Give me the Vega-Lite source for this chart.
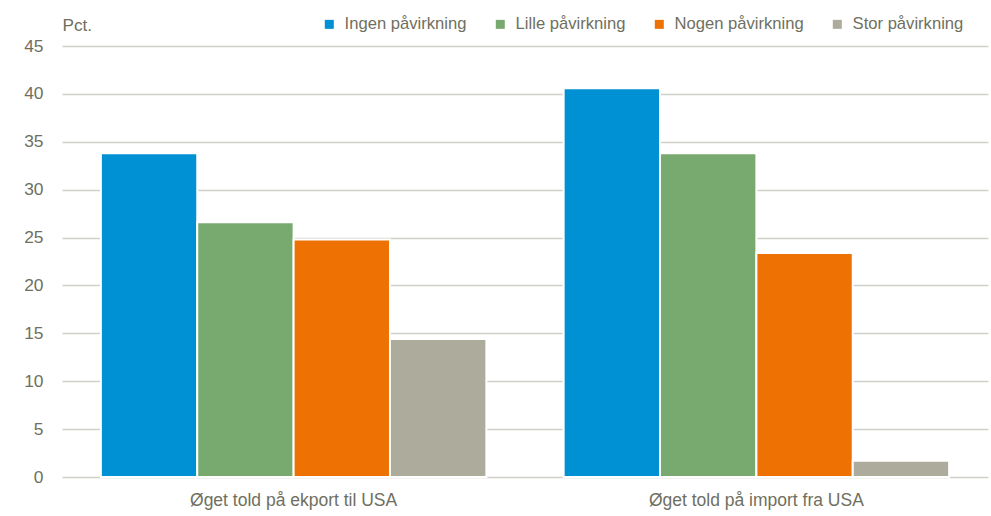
{
  "$schema": "https://vega.github.io/schema/vega-lite/v6.json",
  "width": 926,
  "height": 431,
  "autosize": {"type": "none"},
  "padding": {"left": 62, "top": 46, "right": 3, "bottom": 39},
  "background": "white",
  "data": {
    "values": [
      {"gruppe": "Øget told på ekport til USA", "kategori": "Ingen påvirkning", "pct": 33.8},
      {"gruppe": "Øget told på ekport til USA", "kategori": "Lille påvirkning", "pct": 26.6},
      {"gruppe": "Øget told på ekport til USA", "kategori": "Nogen påvirkning", "pct": 24.8},
      {"gruppe": "Øget told på ekport til USA", "kategori": "Stor påvirkning", "pct": 14.4},
      {"gruppe": "Øget told på import fra USA", "kategori": "Ingen påvirkning", "pct": 40.6},
      {"gruppe": "Øget told på import fra USA", "kategori": "Lille påvirkning", "pct": 33.8},
      {"gruppe": "Øget told på import fra USA", "kategori": "Nogen påvirkning", "pct": 23.4},
      {"gruppe": "Øget told på import fra USA", "kategori": "Stor påvirkning", "pct": 1.7}
    ]
  },
  "mark": {"type": "bar", "stroke": "white", "strokeWidth": 2},
  "encoding": {
    "x": {
      "field": "gruppe",
      "type": "nominal",
      "sort": null,
      "scale": {"paddingInner": 0.167, "paddingOuter": 0.084},
      "axis": {
        "title": null,
        "labelAngle": 0,
        "ticks": false,
        "domain": false,
        "labelBaseline": "alphabetic",
        "labelPadding": 28,
        "labelLimit": 0,
        "labelFont": "Liberation Sans",
        "labelFontSize": 17.5,
        "labelColor": "#6f6f60"
      }
    },
    "xOffset": {
      "field": "kategori",
      "type": "nominal",
      "scale": {"domain": ["Ingen påvirkning", "Lille påvirkning", "Nogen påvirkning", "Stor påvirkning"], "paddingInner": 0, "paddingOuter": 0}
    },
    "y": {
      "field": "pct",
      "type": "quantitative",
      "scale": {"domain": [0, 45], "nice": false},
      "axis": {
        "title": "Pct.",
        "titleAngle": 0,
        "titleX": 0,
        "titleY": -16,
        "titleAlign": "left",
        "titleBaseline": "alphabetic",
        "titleFont": "Liberation Sans",
        "titleFontSize": 17.2,
        "titleFontWeight": "normal",
        "titleColor": "#6f6f60",
        "values": [0, 5, 10, 15, 20, 25, 30, 35, 40, 45],
        "ticks": false,
        "domain": false,
        "labelPadding": 19,
        "labelFont": "Liberation Sans",
        "labelFontSize": 17.4,
        "labelColor": "#6f6f60",
        "grid": true,
        "gridColor": "#d0cfc8",
        "gridWidth": 1.5
      }
    },
    "color": {
      "field": "kategori",
      "type": "nominal",
      "scale": {
        "domain": ["Ingen påvirkning", "Lille påvirkning", "Nogen påvirkning", "Stor påvirkning"],
        "range": ["#0090d4", "#78aa6f", "#ee7203", "#adab9c"]
      },
      "legend": {
        "title": null,
        "orient": "none",
        "direction": "horizontal",
        "columns": 4,
        "legendX": 259,
        "legendY": -30,
        "padding": 0,
        "symbolType": "square",
        "symbolSize": 81,
        "symbolStrokeWidth": 0,
        "labelOffset": 7,
        "columnPadding": 25,
        "labelFont": "Liberation Sans",
        "labelFontSize": 16.6,
        "labelColor": "#6f6f60",
        "labelLimit": 300
      }
    }
  },
  "config": {"view": {"stroke": null}}
}
